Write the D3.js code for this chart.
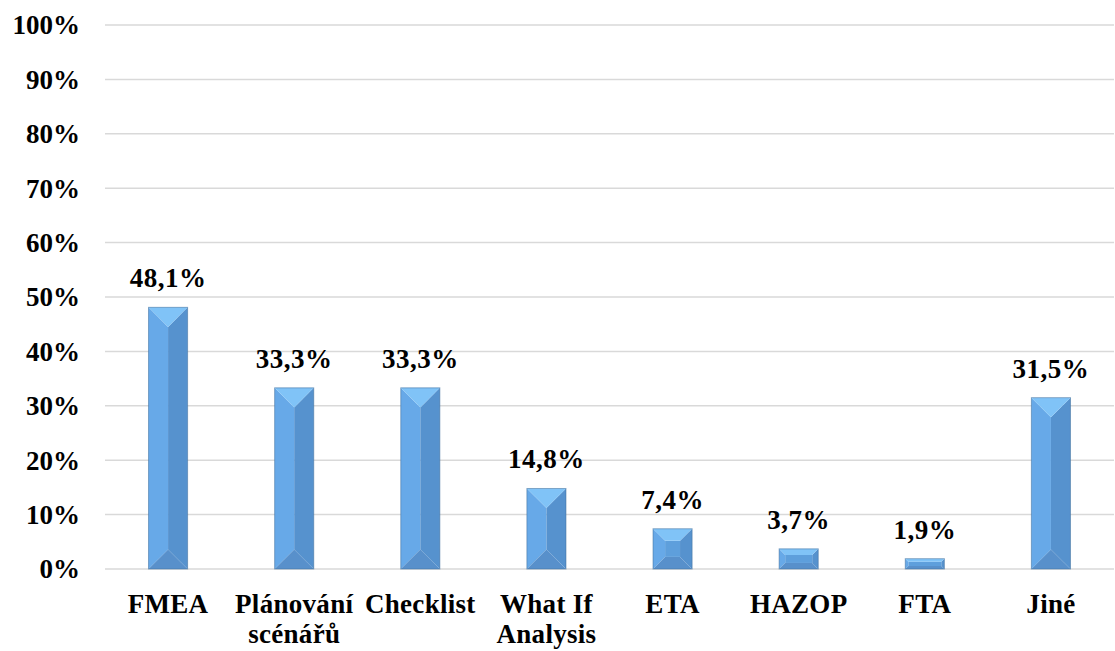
<!DOCTYPE html>
<html>
<head>
<meta charset="utf-8">
<script src="https://cdn.jsdelivr.net/npm/d3@7/dist/d3.min.js"></script>
<style>
  html, body { margin: 0; padding: 0; background: #fff; }
  svg { display: block; }
  text { font-family: "Liberation Serif", "Times New Roman", serif; font-weight: bold; fill: #000; }
</style>
</head>
<body>
<svg id="chart" width="1115" height="651"></svg>
<script>
// Methods used (share of respondents, %)
const categories = ["FMEA", "Plánování\nscénářů", "Checklist", "What If\nAnalysis", "ETA", "HAZOP", "FTA", "Jiné"];
const values = [48.1, 33.3, 33.3, 14.8, 7.4, 3.7, 1.9, 31.5];
const valueLabels = ["48,1%", "33,3%", "33,3%", "14,8%", "7,4%", "3,7%", "1,9%", "31,5%"];
const yTicks = [0, 10, 20, 30, 40, 50, 60, 70, 80, 90, 100];

const svg = d3.select("#chart");
const margin = { left: 105, right: 1, top: 25, bottom: 82 };
const W = 1115, H = 651;
const FONT = 27;

const x = d3.scaleBand()
  .domain(categories)
  .range([margin.left, W - margin.right])
  .paddingInner(0.69)
  .paddingOuter(0.345);

const y = d3.scaleLinear()
  .domain([0, 100])
  .range([H - margin.bottom, margin.top]);

// Gridlines
svg.append("g")
  .selectAll("line")
  .data(yTicks)
  .join("line")
  .attr("x1", margin.left)
  .attr("x2", W - margin.right)
  .attr("y1", d => y(d))
  .attr("y2", d => y(d))
  .attr("stroke", "#d9d9d9")
  .attr("stroke-width", 1.5);

// Y axis labels
const yAxis = d3.axisLeft(y)
  .tickValues(yTicks)
  .tickFormat(d => d + "%")
  .tickSize(0)
  .tickPadding(0);

const yg = svg.append("g")
  .attr("transform", `translate(${margin.left - 25},0)`)
  .call(yAxis);
yg.select(".domain").remove();
yg.selectAll("text")
  .attr("font-size", FONT)
  .attr("font-family", "Liberation Serif, Times New Roman, serif")
  .attr("font-weight", "bold")
  .attr("fill", "#000")
  .attr("dy", "0.33em");

// Bevelled bars
const bars = svg.append("g");
categories.forEach((c, i) => {
  const x0 = x(c), x1 = x0 + x.bandwidth();
  const y0 = y(values[i]), y1 = y(0);
  const w = x1 - x0, h = y1 - y0;
  const d = Math.min(w / 2, h * 0.3);
  const ix0 = x0 + d, ix1 = x1 - d, iy0 = y0 + d, iy1 = y1 - d;
  const g = bars.append("g");
  const poly = (pts, fill) => g.append("polygon")
    .attr("points", pts.map(p => p.join(",")).join(" "))
    .attr("fill", fill);
  // left face
  poly([[x0, y0], [ix0, iy0], [ix0, iy1], [x0, y1]], "#67a9e8");
  // right face
  poly([[x1, y0], [ix1, iy0], [ix1, iy1], [x1, y1]], "#5692ce");
  // center face
  if (ix1 > ix0) poly([[ix0, iy0], [ix1, iy0], [ix1, iy1], [ix0, iy1]], "#5e9fdc");
  // top bevel
  poly([[x0, y0], [x1, y0], [ix1, iy0], [ix0, iy0]], "#80c3f7");
  // bottom bevel
  poly([[x0, y1], [x1, y1], [ix1, iy1], [ix0, iy1]], "#5890cb");
  // outline
  g.append("rect")
    .attr("x", x0).attr("y", y0)
    .attr("width", w).attr("height", h)
    .attr("fill", "none")
    .attr("stroke", "#41719e")
    .attr("stroke-opacity", 0.55)
    .attr("stroke-width", 1);
});

// Value labels
svg.append("g")
  .selectAll("text")
  .data(categories)
  .join("text")
  .attr("x", c => x(c) + x.bandwidth() / 2)
  .attr("y", (c, i) => y(values[i]) - 20)
  .attr("text-anchor", "middle")
  .attr("font-size", FONT)
  .attr("letter-spacing", 0.5)
  .text((c, i) => valueLabels[i]);

// Category labels
const xl = svg.append("g");
categories.forEach(c => {
  const t = xl.append("text")
    .attr("text-anchor", "middle")
    .attr("font-size", FONT)
    .attr("letter-spacing", 0.3);
  c.split("\n").forEach((line, j) => {
    t.append("tspan")
      .attr("x", x(c) + x.bandwidth() / 2)
      .attr("y", 613 + j * 30)
      .text(line);
  });
});
</script>
</body>
</html>
